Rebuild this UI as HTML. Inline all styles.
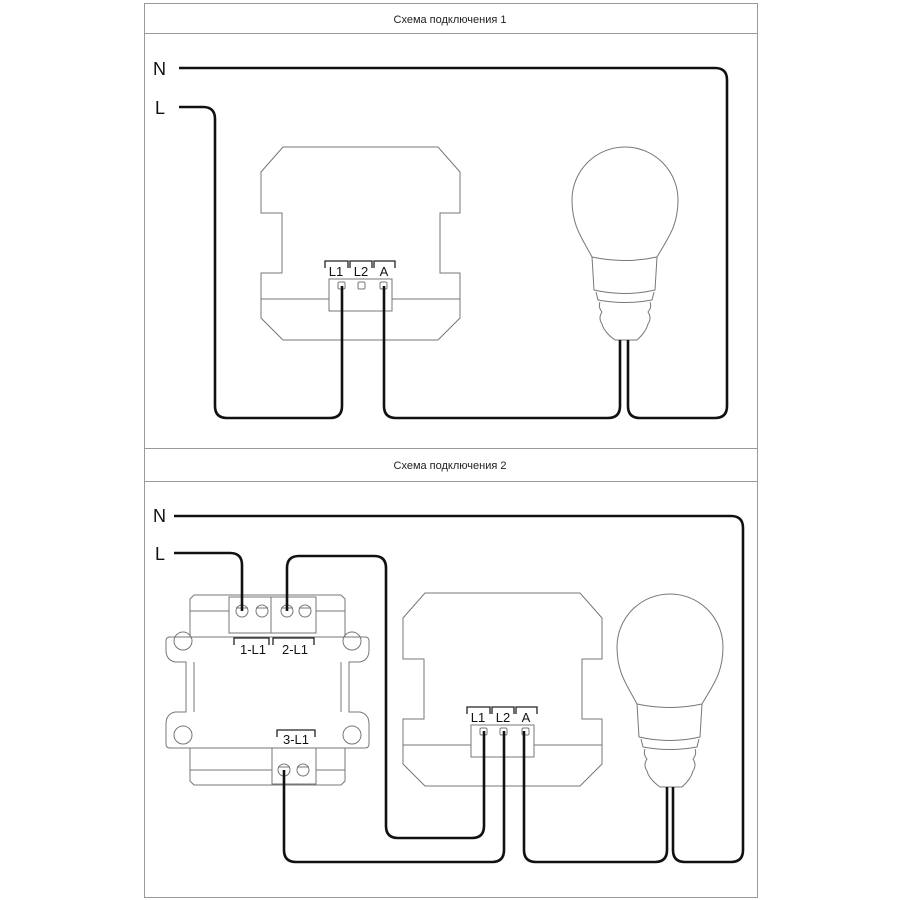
<!DOCTYPE html>
<html><head><meta charset="utf-8"><style>
html,body{margin:0;padding:0;background:#fff;}
svg{display:block;font-family:"Liberation Sans",sans-serif;}
</style></head><body>
<svg width="900" height="900" viewBox="0 0 900 900" xmlns="http://www.w3.org/2000/svg">
<defs>
<g id="dev" fill="none" stroke="#777" stroke-width="1">
  <path d="M283,147 H438 L460,172 V213 H440 V273 H460 V318 L438,340 H283 L261,318 V273 H282 V213 H261 V172 Z"/>
  <line x1="261" y1="299" x2="329" y2="299"/>
  <line x1="392" y1="299" x2="460" y2="299"/>
  <rect x="329" y="279" width="63" height="32"/>
  <rect x="338" y="282" width="7" height="7" rx="1.5"/>
  <rect x="358" y="282" width="7" height="7" rx="1.5"/>
  <rect x="380" y="282" width="7" height="7" rx="1.5"/>
  <path d="M325,268 V261 H348 V268 M350,268 V261 H372 V268 M374,268 V261 H395 V268" stroke="#222" stroke-width="1.3"/>
  <text x="336" y="276" font-size="13" fill="#111" stroke="none" text-anchor="middle">L1</text>
  <text x="361" y="276" font-size="13" fill="#111" stroke="none" text-anchor="middle">L2</text>
  <text x="384" y="276" font-size="13" fill="#111" stroke="none" text-anchor="middle">A</text>
</g>
<g id="lamp" fill="none" stroke="#777" stroke-width="1">
  <path d="M592,257 C582,238 572,226 572,200 A53,53 0 1 1 678,200 C678,226 668,238 657,257"/>
  <path d="M592,257 Q625,264 657,257 L655,290 Q625,297 594,290 Z"/>
  <path d="M596,292 L598,300 Q625,305 652,300 L654,292"/>
  <path d="M600,302 Q598,307 602,312 Q598,318 602,324 Q604,332 615,340 H637 Q646,332 648,324 Q652,318 648,312 Q652,307 650,302"/>
</g>
</defs>

<g fill="none" stroke="#999" stroke-width="1">
  <rect x="144.5" y="3.5" width="613" height="894"/>
  <line x1="144" y1="33.5" x2="758" y2="33.5"/>
  <line x1="144" y1="448.5" x2="758" y2="448.5"/>
  <line x1="144" y1="481.5" x2="758" y2="481.5"/>
</g>
<text x="450" y="23" font-size="11" text-anchor="middle" fill="#222">Схема подключения 1</text>
<text x="450" y="469" font-size="11" text-anchor="middle" fill="#222">Схема подключения 2</text>

<use href="#dev"/>
<use href="#lamp"/>
<text x="153" y="75" font-size="18" fill="#111">N</text>
<text x="155" y="114" font-size="18" fill="#111">L</text>
<g fill="none" stroke="#111" stroke-width="2.6">
  <path d="M179,68 H715 Q727,68 727,80 V406 Q727,418 715,418 H640 Q628,418 628,406 V340"/>
  <path d="M179,107 H203 Q215,107 215,119 V406 Q215,418 227,418 H330 Q342,418 342,406 V286"/>
  <path d="M384,286 V406 Q384,418 396,418 H608 Q620,418 620,406 V340"/>
</g>

<use href="#dev" transform="translate(142,446)"/>
<use href="#lamp" transform="translate(45,447)"/>
<text x="153" y="522" font-size="18" fill="#111">N</text>
<text x="155" y="560" font-size="18" fill="#111">L</text>

<g fill="none" stroke="#777" stroke-width="1">
  <path d="M194,595 H341 L345,599 V637 H190 V599 Z"/>
  <line x1="190" y1="611" x2="229" y2="611"/>
  <line x1="316" y1="611" x2="345" y2="611"/>
  <path d="M194,785 H341 L345,781 V748 H190 V781 Z"/>
  <line x1="190" y1="770" x2="272" y2="770"/>
  <line x1="316" y1="770" x2="345" y2="770"/>
  <path d="M190,637 H170 Q166,637 166,641 V650 Q166,660 175,662 H186 V712 H175 Q166,714 166,724 V744 Q166,748 170,748 H190"/>
  <path d="M345,637 H365 Q369,637 369,641 V650 Q369,660 360,662 H349 V712 H360 Q369,714 369,724 V744 Q369,748 365,748 H345"/>
  <line x1="194" y1="662" x2="194" y2="712"/>
  <line x1="341" y1="662" x2="341" y2="712"/>
  <circle cx="183" cy="641" r="9"/>
  <circle cx="183" cy="735" r="9"/>
  <circle cx="352" cy="641" r="9"/>
  <circle cx="352" cy="735" r="9"/>
  <rect x="229" y="597" width="42" height="36"/>
  <rect x="271" y="597" width="45" height="36"/>
  <rect x="272" y="748" width="44" height="36"/>
  <circle cx="242" cy="611" r="6"/><circle cx="262" cy="611" r="6"/>
  <circle cx="287" cy="611" r="6"/><circle cx="305" cy="611" r="6"/>
  <circle cx="284" cy="770" r="6"/><circle cx="303" cy="770" r="6"/>
  <path d="M236,608 H248 M256,608 H268 M281,608 H293 M299,608 H311 M278,767 H290 M297,767 H309"/>
  <path d="M234,645 V638 H269 V645 M273,645 V638 H314 V645 M277,737 V730 H315 V737" stroke="#222" stroke-width="1.3"/>
</g>
<text x="253" y="654" font-size="13" fill="#111" text-anchor="middle">1-L1</text>
<text x="295" y="654" font-size="13" fill="#111" text-anchor="middle">2-L1</text>
<text x="296" y="744" font-size="13" fill="#111" text-anchor="middle">3-L1</text>

<g fill="none" stroke="#111" stroke-width="2.6">
  <path d="M174,516 H731 Q743,516 743,528 V850 Q743,862 731,862 H685 Q673,862 673,850 V787"/>
  <path d="M667,787 V850 Q667,862 655,862 H536 Q524,862 524,850 V731"/>
  <path d="M504,731 V850 Q504,862 492,862 H296 Q284,862 284,850 V770"/>
  <path d="M484,731 V826 Q484,838 472,838 H398 Q386,838 386,826 V568 Q386,556 374,556 H299 Q287,556 287,568 V611"/>
  <path d="M174,553 H230 Q242,553 242,565 V611"/>
</g>
</svg>
</body></html>
